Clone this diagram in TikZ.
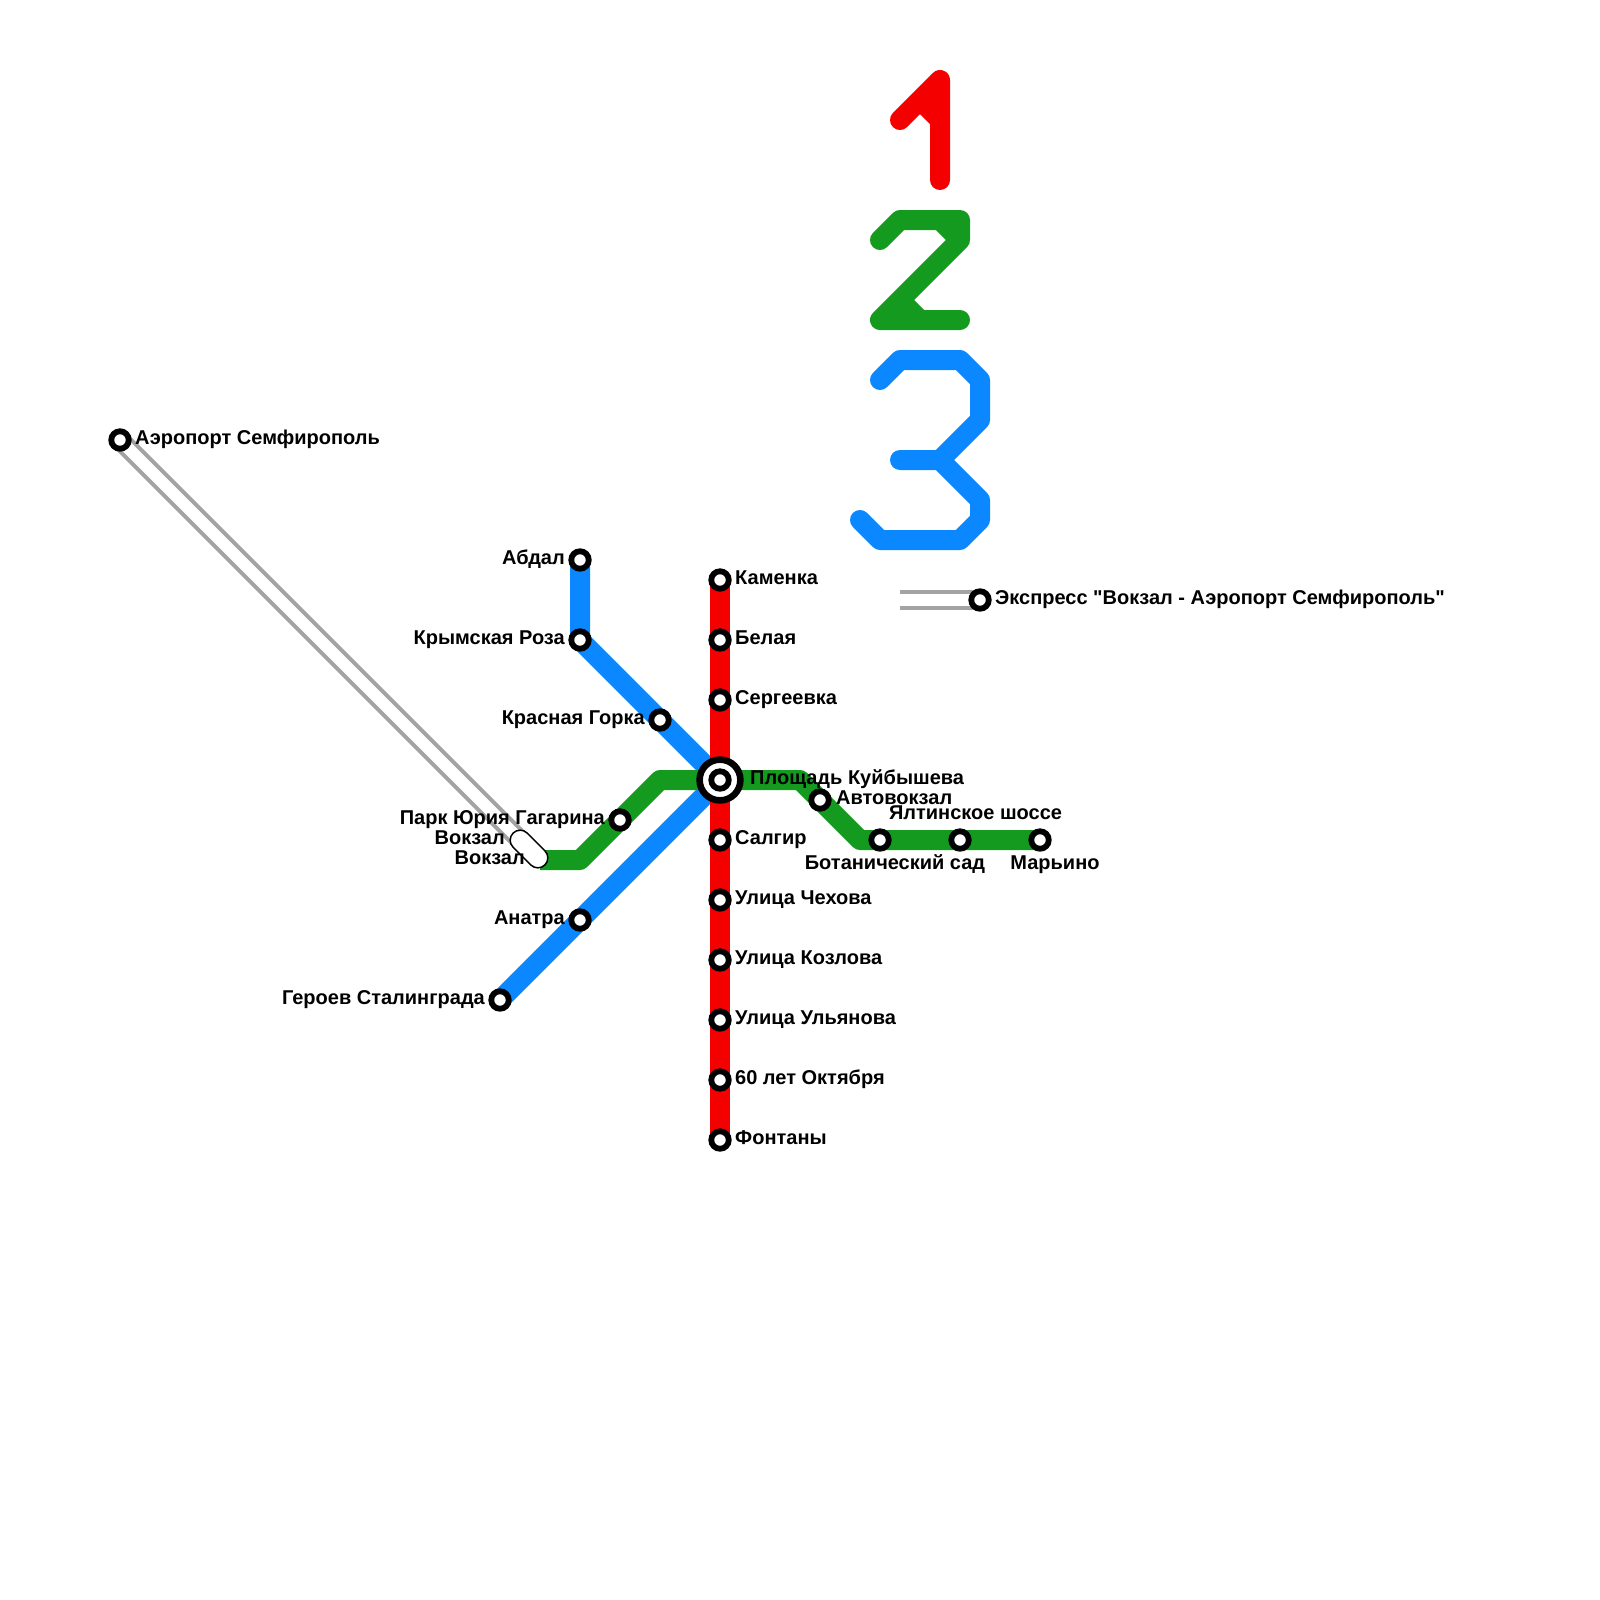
\documentclass[tikz,border=0pt]{standalone}
\usepackage{fontspec}
\newfontfamily\lab{Liberation Sans}
\definecolor{lred}{HTML}{F40000}
\definecolor{lgreen}{HTML}{149A1E}
\definecolor{lblue}{HTML}{0B87FF}
\definecolor{lgray}{HTML}{A3A3A3}
\tikzset{
  stn/.style={circle,draw=black,fill=white,line width=5.8pt,minimum size=17.5pt,inner sep=0pt},
  hubo/.style={circle,draw=black,fill=white,line width=6.6pt,minimum size=40.8pt,inner sep=0pt},
  lbl/.style={font=\lab\fontsize{20}{20}\bfseries\selectfont,text=black,inner sep=0pt},
  rl/.style={lbl,anchor=base west},
  ll/.style={lbl,anchor=base east},
  cl/.style={lbl,anchor=base},
  metro/.style={line width=20pt,line join=round},
  digit/.style={line width=20pt,line join=round,line cap=round},
  express/.style={draw=lgray,line width=4pt,double=white,double distance=12pt},
  capsule/.style={draw=black,fill=white,line width=1.5pt,rounded corners=10pt,minimum width=45pt,minimum height=20pt,inner sep=0pt,rotate=-45}
}
\begin{document}
\begin{tikzpicture}[x=1pt,y=-1pt]
\useasboundingbox (0,0) rectangle (1600,1600);
% bends
\coordinate (b1) at (580,860);
\coordinate (b2) at (660,780);
\coordinate (b3) at (800,780);
\coordinate (b4) at (860,840);
\coordinate (c0) at (540,860);
\coordinate (hc) at (720,780);
\coordinate (legend) at (900,600);
% digits
\draw[digit,lred] (900,120) -- (920,100) -- (940,80) -- (940,180) (920,100) -- (940,120);
\draw[digit,lgreen] (880,240) -- (900,220) -- (960,220) -- (960,240) -- (880,320) -- (960,320)
   (940,220) -- (960,240) (900,300) -- (920,320);
\draw[digit,lblue] (880,380) -- (900,360) -- (960,360) -- (980,380) -- (980,420) -- (940,460) -- (900,460)
   (940,460) -- (980,500) -- (980,520) -- (960,540) -- (880,540) -- (860,520);
% station positions
\coordinate (kam) at (720,580);
\coordinate (fon) at (720,1140);
\coordinate (abd) at (580,560);
\coordinate (kry) at (580,640);
\coordinate (ger) at (500,1000);
\coordinate (mar) at (1040,840);
\coordinate (aer) at (120,440);
\coordinate (exq) at (980,600);
\coordinate (vok) at (529,849);
% lines
\draw[express] (aer) -- (vok);
\draw[express] (legend) -- (exq);
\draw[metro,lblue] (abd) -- (kry) -- (hc) -- (ger);
\draw[metro,lgreen] (c0) -- (b1) -- (b2) -- (b3) -- (b4) -- (mar);
\draw[metro,lred] (kam) -- (fon);
% stations
\node[capsule] (nvok) at (vok) {};
\node[stn] (s1) at (720,580) {};
\node[stn] (s2) at (720,640) {};
\node[stn] (s3) at (720,700) {};
\node[hubo] (hub) at (720,780) {};
\node[stn] (hubi) at (720,780) {};
\node[stn] (s5) at (720,840) {};
\node[stn] (s6) at (720,900) {};
\node[stn] (s7) at (720,960) {};
\node[stn] (s8) at (720,1020) {};
\node[stn] (s9) at (720,1080) {};
\node[stn] (s10) at (720,1140) {};
\node[stn] (a1) at (580,560) {};
\node[stn] (a2) at (580,640) {};
\node[stn] (a3) at (660,720) {};
\node[stn] (a4) at (580,920) {};
\node[stn] (a5) at (500,1000) {};
\node[stn] (g1) at (620,820) {};
\node[stn] (g2) at (820,800) {};
\node[stn] (g3) at (880,840) {};
\node[stn] (g4) at (960,840) {};
\node[stn] (g5) at (1040,840) {};
\node[stn] (e1) at (980,600) {};
\node[stn] (e2) at (120,440) {};
% labels
\node[rl] (l1) at (735,584.5) {Каменка};
\node[rl] (l2) at (735,644.5) {Белая};
\node[rl] (l3) at (735,704.5) {Сергеевка};
\node[rl] (l4) at (750,784.5) {Площадь Куйбышева};
\node[rl] (l5) at (735,844.5) {Салгир};
\node[rl] (l6) at (735,904.5) {Улица Чехова};
\node[rl] (l7) at (735,964.5) {Улица Козлова};
\node[rl] (l8) at (735,1024.5) {Улица Ульянова};
\node[rl] (l9) at (735,1084.5) {60 лет Октября};
\node[rl] (l10) at (735,1144.5) {Фонтаны};
\node[ll] (m1) at (565,564.5) {Абдал};
\node[ll] (m2) at (565,644.5) {Крымская Роза};
\node[ll] (m3) at (645,724.5) {Красная Горка};
\node[ll] (m4) at (565,924.5) {Анатра};
\node[ll] (m5) at (485,1004.5) {Героев Сталинграда};
\node[ll] (n1) at (605,824.5) {Парк Юрия Гагарина};
\node[ll] (n2) at (505,844.5) {Вокзал};
\node[ll] (n3) at (525,864.5) {Вокзал};
\node[rl] (n4) at (836,804.5) {Автовокзал};
\node[cl] (n5) at (895,869) {Ботанический сад};
\node[cl] (n6) at (975.5,819.5) {Ялтинское шоссе};
\node[cl] (n7) at (1055,869) {Марьино};
\node[rl] (x1) at (995,604.5) {Экспресс "Вокзал - Аэропорт Семфирополь"};
\node[rl] (x2) at (135,444.5) {Аэропорт Семфирополь};
\end{tikzpicture}
\end{document}
